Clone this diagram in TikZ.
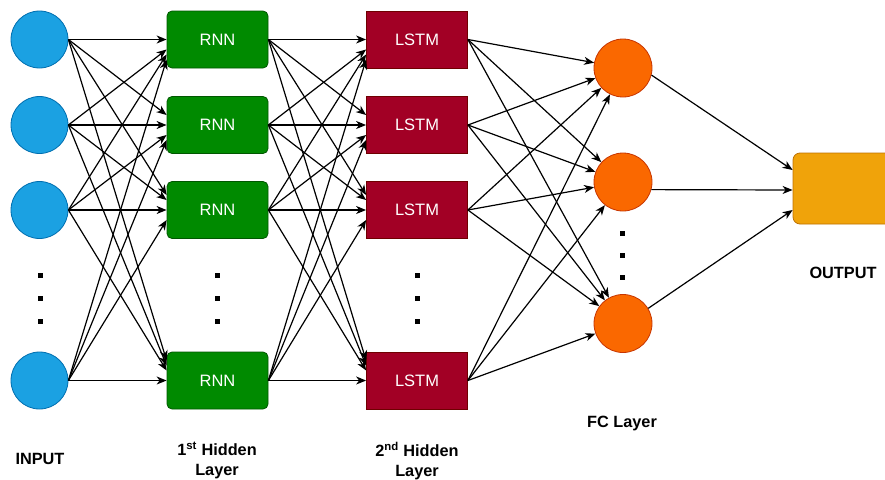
\documentclass[tikz,border=0pt]{standalone}
\usepackage{fontspec}
\setmainfont{Liberation Sans}
\usetikzlibrary{arrows.meta,calc}
\definecolor{inFill}{HTML}{1BA1E2}\definecolor{inLine}{HTML}{006EAF}
\definecolor{rnnFill}{HTML}{008A00}\definecolor{rnnLine}{HTML}{005700}
\definecolor{lstmFill}{HTML}{A20025}\definecolor{lstmLine}{HTML}{6F0000}
\definecolor{fcFill}{HTML}{FA6800}\definecolor{fcLine}{HTML}{C73500}
\definecolor{outFill}{HTML}{F0A30A}\definecolor{outLine}{HTML}{BD7000}
\tikzset{
  incirc/.style={circle,draw=inLine,fill=inFill,minimum size=57pt,inner sep=0pt,line width=0.8pt},
  fccirc/.style={circle,draw=fcLine,fill=fcFill,minimum size=58pt,inner sep=0pt,line width=0.8pt},
  rnnbox/.style={rectangle,rounded corners=5pt,draw=rnnLine,fill=rnnFill,minimum width=101pt,minimum height=57pt,inner sep=0pt,text=white,font=\fontsize{16.5}{19}\selectfont,line width=0.8pt},
  lstmbox/.style={rectangle,draw=lstmLine,fill=lstmFill,minimum width=101pt,minimum height=57pt,inner sep=0pt,text=white,font=\fontsize{16.5}{19}\selectfont,line width=0.8pt},
  outbox/.style={rectangle,rounded corners=7pt,draw=outLine,fill=outFill,minimum width=100pt,minimum height=71pt,inner sep=0pt,line width=0.8pt},
  dotsq/.style={rectangle,fill=black,minimum size=5pt,inner sep=0pt},
  lbl/.style={font=\bfseries\fontsize{16.3}{19.5}\selectfont,align=center,inner sep=0pt},
  arr/.style={-{Stealth[length=10pt,width=8pt,inset=3pt]},line width=1.2pt,black},
}
\begin{document}
\begin{tikzpicture}[x=1pt,y=-1pt]
\useasboundingbox (0,0) rectangle (885,479);
\clip (0,0) rectangle (885,479);
% input column
\node[incirc] (in1) at (39.5,39.5) {};
\node[incirc] (in2) at (39.5,125) {};
\node[incirc] (in3) at (39.5,210) {};
\node[incirc] (in4) at (39.5,380.5) {};
% RNN column
\node[rnnbox] (rnn1) at (217.5,39.5) {RNN};
\node[rnnbox] (rnn2) at (217.5,125) {RNN};
\node[rnnbox] (rnn3) at (217.5,210) {RNN};
\node[rnnbox] (rnn4) at (217.5,380.5) {RNN};
% LSTM column
\node[lstmbox] (lstm1) at (417,39.5) {LSTM};
\node[lstmbox] (lstm2) at (417,125) {LSTM};
\node[lstmbox] (lstm3) at (417,210) {LSTM};
\node[lstmbox] (lstm4) at (417,380.5) {LSTM};
% FC column
\node[fccirc] (fc1) at (623,68) {};
\node[fccirc] (fc2) at (623,182) {};
\node[fccirc] (fc3) at (623,323.5) {};
% output
\node[outbox] (out) at (843,188.5) {};
% dots
\foreach \c/\x in {a/40,b/217,c/417}{
  \node[dotsq] (dot\c1) at (\x,275) {};
  \node[dotsq] (dot\c2) at (\x,298) {};
  \node[dotsq] (dot\c3) at (\x,321) {};
}
\node[dotsq] (dotd1) at (622,233) {};
\node[dotsq] (dotd2) at (622,255) {};
\node[dotsq] (dotd3) at (622,277) {};
% edges input -> RNN, RNN -> LSTM
\foreach \i in {1,...,4}{
  \foreach \j in {1,...,4}{
    \pgfmathsetmacro\off{(\i==\j)?0:((\i<\j)?(-5-5*(\j-\i)):(5+5*(\i-\j)))}
    \draw[arr] (in\i.east) -- ($(rnn\j.west)+(0,\off)$);
    \draw[arr] (rnn\i.east) -- ($(lstm\j.west)+(0,\off)$);
  }
}
% edges LSTM -> FC
\foreach \i in {1,...,4}{
  \foreach \j in {1,2,3}{
    \draw[arr] (lstm\i.east) -- (fc\j);
  }
}
% edges FC -> output
\draw[arr] (fc1.-14) -- ($(out.west)+(0,-18.5)$);
\draw[arr] (fc2.-15) -- ($(out.west)+(0,1.5)$);
\draw[arr] (fc3.31) -- ($(out.west)+(0,21.5)$);
% labels
\node[lbl] (linput) at (40,459) {INPUT};
\node[lbl,anchor=north] (lhid1) at (217,442) {1\textsuperscript{st} Hidden\\Layer};
\node[lbl,anchor=north] (lhid2) at (417,442) {2\textsuperscript{nd} Hidden\\Layer};
\node[lbl] (lfc) at (622,423) {FC Layer};
\node[lbl] (lout) at (843,273) {OUTPUT};
\end{tikzpicture}
\end{document}
